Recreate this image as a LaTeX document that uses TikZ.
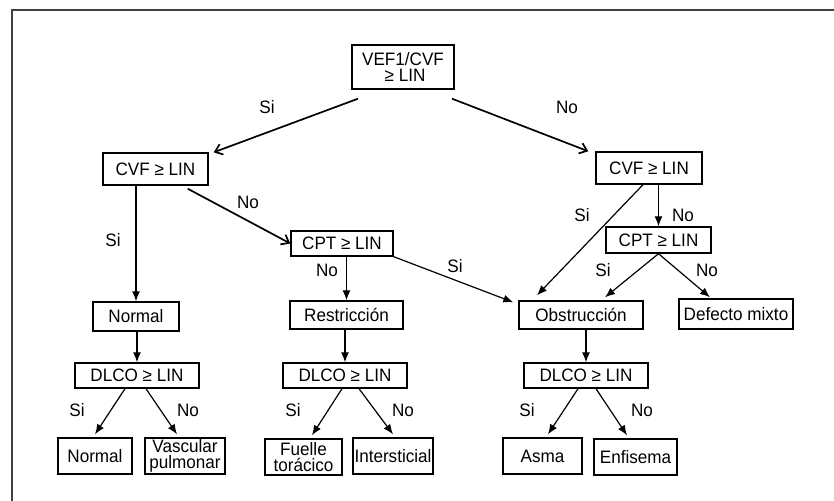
\documentclass[tikz,border=0pt]{standalone}
\usepackage{fontspec}
\setmainfont[FakeStretch=0.95]{Liberation Sans}
\usetikzlibrary{arrows.meta}

\begin{document}
\begin{tikzpicture}[x=1pt,y=-1pt,
    box/.style 2 args={draw, line width=1.4pt, inner sep=0pt, align=center,
      minimum width=#1, minimum height=#2, font=\fontsize{18}{16.5}\selectfont},
    lbl/.style={inner sep=0pt, font=\fontsize{18}{20}\selectfont},
    arr/.style={-{Latex[length=10pt,width=8pt]}, line width=1.2pt},
    barb/.style={-{Straight Barb[length=7pt,width=11pt]}, line width=1.7pt}]
  \useasboundingbox (0,0) rectangle (834,500);
  \draw [line width=2pt, black!75] (12,10) rectangle (860,530); % frame

  % boxes
  \node [box={102pt}{44pt}] (root) at (403,67) {VEF1/CVF\\\hspace*{4pt}≥ LIN};
  \node [box={105pt}{32pt}] (cvfL) at (155.5,169) {CVF ≥ LIN};
  \node [box={106pt}{32pt}] (cvfR) at (649,168) {CVF ≥ LIN};
  \node [box={102pt}{25pt}] (cptM) at (342,243.5) {CPT ≥ LIN};
  \node [box={105pt}{26pt}] (cptR) at (658.5,240) {CPT ≥ LIN};

  \node [box={86pt}{29pt}] (normA) at (136,316.5) {Normal};
  \node [box={113pt}{28pt}] (restr) at (346.5,315) {Restricción};
  \node [box={124pt}{28pt}] (obstr) at (581,315) {Obstrucción};
  \node [box={114pt}{30pt}] (mixto) at (736,314) {Defecto mixto};

  \node [box={124pt}{25pt}] (dlcoL) at (137,375.5) {DLCO ≥ LIN};
  \node [box={124pt}{25pt}] (dlcoM) at (345,375.5) {DLCO ≥ LIN};
  \node [box={124pt}{25pt}] (dlcoR) at (586,375.5) {DLCO ≥ LIN};

  \node [box={74pt}{36pt}] (normB) at (95,456) {Normal};
  \node [box={80pt}{36pt}] (vasc) at (185,456) {Vascular\\pulmonar};
  \node [box={77pt}{36pt}] (fuelle) at (303.5,457) {Fuelle\\torácico};
  \node [box={80pt}{36pt}] (inter) at (393,456) {Intersticial};
  \node [box={79pt}{36pt}] (asma) at (542.5,456) {Asma};
  \node [box={83pt}{36pt}] (enfis) at (635.5,457) {Enfisema};

  % labels
  \node [lbl] (siA) at (267,107) {Si};
  \node [lbl] (noA) at (567,107) {No};
  \node [lbl] (siB) at (113,240) {Si};
  \node [lbl] (noB) at (248,202) {No};
  \node [lbl] (noC) at (327,270) {No};
  \node [lbl] (siC) at (455,266) {Si};
  \node [lbl] (siD) at (582,215) {Si};
  \node [lbl] (noD) at (683,215) {No};
  \node [lbl] (siE) at (603,270) {Si};
  \node [lbl] (noE) at (707,270) {No};
  \node [lbl] (siF) at (77,410) {Si};
  \node [lbl] (noF) at (188,410) {No};
  \node [lbl] (siG) at (293,410) {Si};
  \node [lbl] (noG) at (403,410) {No};
  \node [lbl] (siH) at (527,410) {Si};
  \node [lbl] (noH) at (642,410) {No};

  % connectors
  \draw [barb] ([xshift=-45pt,yshift=-9pt]root.south) -- ([xshift=5pt]cvfL.north east);
  \draw [barb] ([xshift=49pt,yshift=-9pt]root.south) -- ([xshift=-7pt]cvfR.north west);

  \draw [arr] (normA.north |- cvfL.south) -- (normA.north);
  \draw [barb] ([xshift=-21pt,yshift=-3pt]cvfL.south east) -- (cptM.west);
  \draw [arr] (restr.north |- cptM.south) -- (restr.north);
  \draw [arr] (cptM.south east) -- ([xshift=-5pt,yshift=-2pt]obstr.north west);

  \draw [arr] ([xshift=-6pt]cvfR.south) -- ([xshift=-44pt,yshift=5pt]obstr.north);
  \draw [arr] (cptR.north |- cvfR.south) -- (cptR.north);
  \draw [arr] (cptR.south) -- ([xshift=24pt,yshift=3pt]obstr.north);
  \draw [arr] (cptR.south) -- ([xshift=-26pt,yshift=1pt]mixto.north);

  \draw [arr] (dlcoL.north |- normA.south) -- (dlcoL.north);
  \draw [arr] (dlcoM.north |- restr.south) -- (dlcoM.north);
  \draw [arr] (dlcoR.north |- obstr.south) -- (dlcoR.north);

  \draw [arr] ([xshift=-12pt]dlcoL.south) -- ([yshift=3pt]normB.north);
  \draw [arr] ([xshift=9pt]dlcoL.south) -- ([xshift=-8pt,yshift=3pt]vasc.north);
  \draw [arr] ([xshift=-3pt]dlcoM.south) -- ([xshift=8.5pt,yshift=3pt]fuelle.north);
  \draw [arr] ([xshift=14pt]dlcoM.south) -- ([yshift=3pt]inter.north);
  \draw [arr] ([xshift=-8pt]dlcoR.south) -- ([xshift=5.5pt,yshift=3pt]asma.north);
  \draw [arr] ([xshift=10pt]dlcoR.south) -- ([xshift=-8.5pt,yshift=3pt]enfis.north);
\end{tikzpicture}
\end{document}
